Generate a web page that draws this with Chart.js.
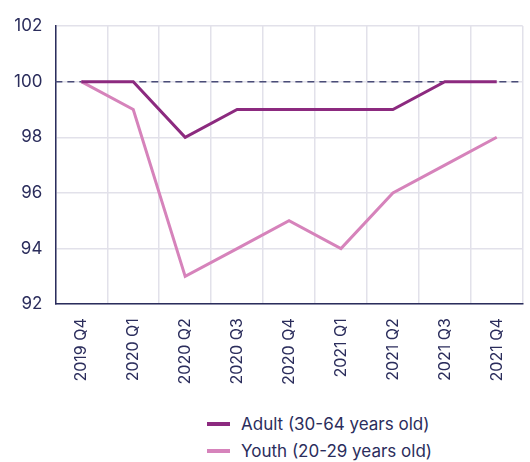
<!DOCTYPE html>
<html>
<head>
<meta charset="utf-8">
<script src="https://cdn.jsdelivr.net/npm/chart.js@4"></script>
<style>
  body { margin: 0; background: #fff; font-family: Inter, sans-serif; }
  #wrap { position: relative; width: 530px; height: 399px; }
  #legend { position: absolute; left: 207px; top: 410px; color: #2b2d5c; font-size: 17px; }
  .item { display: flex; align-items: center; height: 27px; }
  .swatch { width: 23px; height: 4px; margin-right: 11px; }
</style>
</head>
<body>
<div id="wrap"><canvas id="chart"></canvas></div>
<div id="legend"></div>
<script>
// Quarters and index values (2019 Q4 = 100)
const quarters = ["2019 Q4", "2020 Q1", "2020 Q2", "2020 Q3", "2020 Q4", "2021 Q1", "2021 Q2", "2021 Q3", "2021 Q4"];
const adult = [100, 100, 98, 99, 99, 99, 99, 100, 100];
const youth = [100, 99, 93, 94, 95, 94, 96, 97, 98];
const yTicks = [92, 94, 96, 98, 100, 102];
const baseline = 100;

const ink = "#2b2d5c";
const grid = "#e2e1ea";

const series = [
  { label: "Adult (30-64 years old)", data: adult, color: "#8c2a7f" },
  { label: "Youth (20-29 years old)", data: youth, color: "#d683bb" }
];

// dashed reference line across the whole plot
const baselinePlugin = {
  id: "baseline",
  beforeDatasetsDraw(chart) {
    const { ctx, chartArea, scales } = chart;
    const y = scales.y.getPixelForValue(baseline);
    ctx.save();
    ctx.strokeStyle = "#4a4d78";
    ctx.lineWidth = 1.5;
    ctx.setLineDash([7, 5]);
    ctx.beginPath();
    ctx.moveTo(chartArea.left, y);
    ctx.lineTo(chartArea.right, y);
    ctx.stroke();
    ctx.restore();
  }
};

new Chart(document.getElementById("chart"), {
  type: "line",
  data: {
    labels: quarters,
    datasets: series.map(s => ({
      label: s.label,
      data: s.data,
      borderColor: s.color,
      backgroundColor: s.color,
      borderWidth: 3,
      pointRadius: 0,
      tension: 0,
      fill: false
    }))
  },
  options: {
    responsive: true,
    maintainAspectRatio: false,
    animation: false,
    layout: { padding: { top: 26, right: 1, left: 1, bottom: 0 } },
    plugins: {
      legend: { display: false },
      tooltip: { enabled: false }
    },
    scales: {
      x: {
        offset: true,
        grid: { color: grid, lineWidth: 1.5, offset: true, drawTicks: false },
        border: { color: ink, width: 1.5 },
        ticks: {
          color: ink,
          font: { family: "Inter", size: 16 },
          minRotation: 90,
          maxRotation: 90,
          padding: 14
        }
      },
      y: {
        min: 92,
        max: 102,
        afterBuildTicks: axis => { axis.ticks = yTicks.map(v => ({ value: v })); },
        grid: { color: grid, lineWidth: 1.5, drawTicks: false },
        border: { color: ink, width: 1.5 },
        ticks: {
          color: ink,
          font: { family: "Inter", size: 17 },
          padding: 13
        }
      }
    }
  },
  plugins: [baselinePlugin]
});

// legend below the chart, one entry per line
const legend = document.getElementById("legend");
series.forEach(s => {
  const row = document.createElement("div");
  row.className = "item";
  const sw = document.createElement("span");
  sw.className = "swatch";
  sw.style.background = s.color;
  const txt = document.createElement("span");
  txt.textContent = s.label;
  row.appendChild(sw);
  row.appendChild(txt);
  legend.appendChild(row);
});
</script>
</body>
</html>
